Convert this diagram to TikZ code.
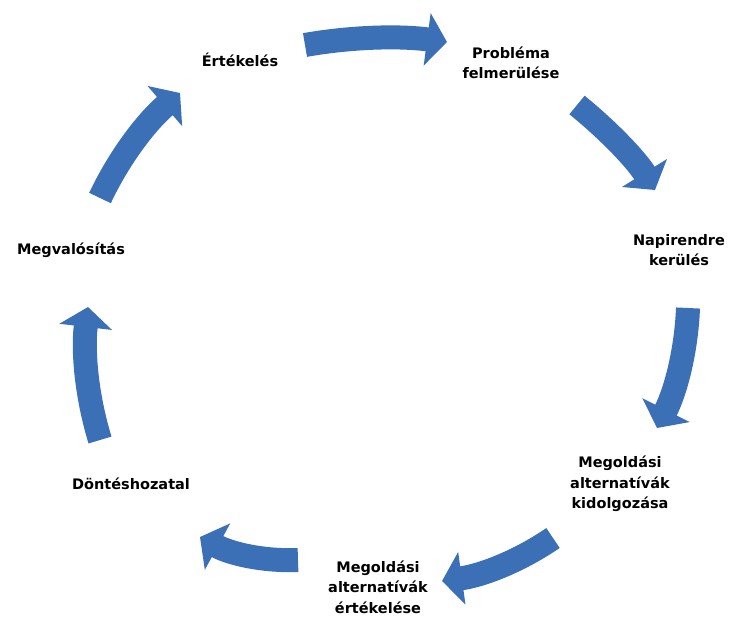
\documentclass[tikz,border=0pt]{standalone}
\usepackage{fontspec}
\setmainfont{DejaVu Sans}
\usetikzlibrary{arrows.meta}
\definecolor{arrblue}{RGB}{59,112,183}
\begin{document}
\begin{tikzpicture}[x=1pt,y=-1pt,
  cyc/.style={draw=arrblue, line width=24pt, -{Triangle[length=20pt,width=52pt]}},
  lbl/.style={font=\bfseries\fontsize{14.5}{20.5}\selectfont, align=center, text=black, inner sep=0pt}]
\fill[white] (0,0) rectangle (734,619);
\useasboundingbox (0,0) rectangle (734,619);

% labels
\node[lbl] (lE) at (240,60) {Értékelés};
\node[lbl] (lP) at (511,63) {Probléma\\felmerülése};
\node[lbl] (lN) at (679,250) {Napirendre\\kerülés};
\node[lbl] (lK) at (620,484) {Megoldási\\alternatívák\\kidolgozása};
\node[lbl] (lA) at (378,587) {Megoldási\\alternatívák\\értékelése};
\node[lbl] (lD) at (131,484) {Döntéshozatal};
\node[lbl] (lM) at (71,250) {Megvalósítás};

% arrow end points
\coordinate (a1s) at (305,45);  \coordinate (a1e) at (447,42);
\coordinate (a2s) at (577,105); \coordinate (a2e) at (655,190);
\coordinate (a3s) at (688,308); \coordinate (a3e) at (657,428);
\coordinate (a4s) at (553,538); \coordinate (a4e) at (442,581);
\coordinate (a5s) at (298,560); \coordinate (a5e) at (200,537);
\coordinate (a6s) at (100,440); \coordinate (a6e) at (88,307);
\coordinate (a7s) at (100,198); \coordinate (a7e) at (180,93);

\draw[cyc] (a1s) .. controls (352.3,36.7) and (399.7,35.7) .. (a1e);
\draw[cyc] (a2s) .. controls (611,132.7) and (637,161) .. (a2e);
\draw[cyc] (a3s) .. controls (686.3,350.3) and (676,390.3) .. (a3e);
\draw[cyc] (a4s) .. controls (519.3,561.1) and (482.3,575.4) .. (a4e);
\draw[cyc] (a5s) .. controls (263.2,561.4) and (230.5,553.7) .. (a5e);
\draw[cyc] (a6s) .. controls (86.7,396.5) and (82.7,352.1) .. (a6e);
\draw[cyc] (a7s) .. controls (119.2,157.4) and (145.9,122.4) .. (a7e);
\end{tikzpicture}
\end{document}
